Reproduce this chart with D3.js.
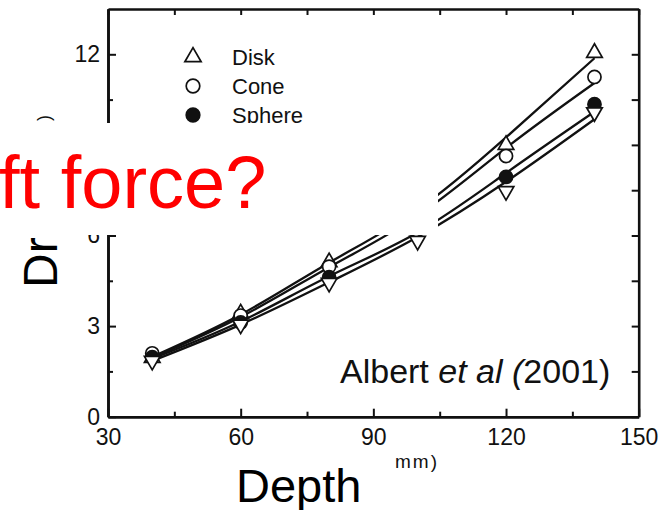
<!DOCTYPE html>
<html>
<head>
<meta charset="utf-8">
<script src="https://cdn.jsdelivr.net/npm/d3@7"></script>
<style>
body { margin: 0; background: #fff; }
text { font-family: "Liberation Sans", Arial, Helvetica, sans-serif; }
</style>
</head>
<body>
<div id="chart"></div>
<script>
// data (depth in mm, force)
var depths = [40, 60, 80, 100, 120, 140];
var diskVals = [1.95, 3.42, 5.12, 6.9, 9.0, 12.05];
var coneVals = [2.1, 3.35, 4.97, 6.7, 8.63, 11.25];
var sphereVals = [1.97, 3.12, 4.62, 6.3, 7.94, 10.35];
var downVals = [1.85, 3.05, 4.43, 5.82, 7.47, 10.08];

// fitted curves, read at the same depths
var diskFit = [1.98, 3.38, 5.1, 6.85, 9.25, 11.87];
var coneFit = [1.95, 3.3, 4.95, 6.65, 8.9, 11.05];
var sphereFit = [1.92, 3.15, 4.65, 6.1, 8.07, 10.1];
var downFit = [1.85, 3.05, 4.45, 5.95, 7.78, 9.85];

var legendNames = ["Disk", "Cone", "Sphere"];
var xMajorTicks = [30, 60, 90, 120, 150];
var xMinorTicks = [45, 75, 105, 135];
var yMajorTicks = [0, 3, 6, 9, 12];
var yTickLabels = ["0", "3", "6", "", "12"]; // the 9 sits under the white box
var yMinorTicks = [1.5, 4.5, 7.5, 10.5];

var svgWidth = 664, svgHeight = 510;
var margin = {top: 9, right: 25.3, bottom: 93.3, left: 108},
    width = svgWidth - margin.left - margin.right,
    height = svgHeight - margin.top - margin.bottom;

var root = d3.select("#chart")
  .append("svg")
    .attr("width", svgWidth)
    .attr("height", svgHeight)
    .style("display", "block");

var svg = root.append("g")
    .attr("transform", "translate(" + margin.left + "," + margin.top + ")");

var x = d3.scaleLinear().domain([30, 150]).range([0, width]);
var y = d3.scaleLinear().domain([0, 13.5]).range([height, 0]);

// axes, ticks pointing inward
function styleAxis(g) {
  g.attr("font-family", null).attr("font-size", null);
  g.select(".domain").attr("stroke", "#111").attr("stroke-width", 2.6);
  g.selectAll(".tick line").attr("stroke", "#111").attr("stroke-width", 2);
  g.selectAll(".tick text").attr("fill", "#111").style("font-size", "23px");
}

svg.append("g")
  .attr("transform", "translate(0," + height + ")")
  .call(d3.axisBottom(x).tickValues(xMajorTicks).tickSize(-8).tickSizeOuter(0).tickPadding(12).tickFormat(d3.format("d")))
  .call(styleAxis);
svg.append("g")
  .attr("transform", "translate(0," + height + ")")
  .call(d3.axisBottom(x).tickValues(xMinorTicks).tickSize(-5).tickSizeOuter(0).tickFormat(""))
  .call(styleAxis);

svg.append("g")
  .call(d3.axisLeft(y).tickValues(yMajorTicks).tickSize(-8).tickSizeOuter(0).tickPadding(8)
    .tickFormat(function(d, i) { return yTickLabels[i]; }))
  .call(styleAxis);
svg.append("g")
  .call(d3.axisLeft(y).tickValues(yMinorTicks).tickSize(-5).tickSizeOuter(0).tickFormat(""))
  .call(styleAxis);

svg.append("g")
  .call(d3.axisTop(x).tickValues(xMajorTicks.concat(xMinorTicks)).tickSize(-6).tickSizeOuter(0).tickFormat(""))
  .call(styleAxis);

svg.append("g")
  .attr("transform", "translate(" + width + ",0)")
  .call(d3.axisRight(y).tickValues(yMajorTicks.concat(yMinorTicks)).tickSize(-7).tickSizeOuter(0).tickFormat(""))
  .call(styleAxis);

// fitted lines
var fits = [diskFit, coneFit, sphereFit, downFit];
var line = d3.line()
  .x(function(d, i) { return x(depths[i]); })
  .y(function(d) { return y(d); })
  .curve(d3.curveNatural);

svg.append("g")
  .selectAll("path")
  .data(fits)
  .join("path")
    .attr("d", line)
    .attr("fill", "none")
    .attr("stroke", "#111")
    .attr("stroke-width", 2.3);

// markers
var series = [
  {vals: diskVals, shape: d3.symbolTriangle, size: 105, rot: 0, fill: "#fff"},
  {vals: coneVals, shape: d3.symbolCircle, size: 135, rot: 0, fill: "#fff"},
  {vals: sphereVals, shape: d3.symbolCircle, size: 135, rot: 0, fill: "#111"},
  {vals: downVals, shape: d3.symbolTriangle, size: 105, rot: 180, fill: "#fff"}
];

series.forEach(function(s) {
  svg.append("g")
    .selectAll("path")
    .data(s.vals)
    .join("path")
      .attr("d", d3.symbol().type(s.shape).size(s.size))
      .attr("transform", function(d, i) {
        return "translate(" + x(depths[i]) + "," + y(d) + ") rotate(" + s.rot + ")";
      })
      .attr("fill", s.fill)
      .attr("stroke", "#111")
      .attr("stroke-width", 1.7);
});

// legend
var legend = root.append("g").attr("transform", "translate(193,57)");
legend.selectAll("path")
  .data(legendNames)
  .join("path")
    .attr("d", function(d, i) { return d3.symbol().type(series[i].shape).size(series[i].size + 10)(); })
    .attr("transform", function(d, i) { return "translate(0," + (i * 29) + ")"; })
    .attr("fill", function(d, i) { return series[i].fill; })
    .attr("stroke", "#111")
    .attr("stroke-width", 1.7);
legend.selectAll("text")
  .data(legendNames)
  .join("text")
    .attr("x", 39)
    .attr("y", function(d, i) { return i * 29 + 8; })
    .style("font-size", "22px")
    .attr("fill", "#111")
    .text(function(d) { return d; });

// citation
var cite = root.append("text")
  .attr("x", 340)
  .attr("y", 383)
  .style("font-size", "34px")
  .attr("fill", "#111");
cite.append("tspan").text("Albert ");
cite.append("tspan").style("font-style", "italic").text("et al (");
cite.append("tspan").text("2001)");

// leftover bit of the original y label
root.append("text")
  .attr("transform", "translate(50,121) rotate(-90)")
  .style("font-size", "18px")
  .attr("fill", "#111")
  .text(")");

// white box laid over the figure
root.append("rect")
  .attr("x", -2)
  .attr("y", 123)
  .attr("width", 440)
  .attr("height", 112)
  .attr("fill", "#fff");

root.append("text")
  .attr("x", -1)
  .attr("y", 208)
  .style("font-size", "74px")
  .attr("fill", "#ff0000")
  .text("ft force?");

root.append("text")
  .attr("transform", "translate(57,288) rotate(-90)")
  .style("font-size", "48px")
  .attr("fill", "#000")
  .text("Dr");

root.append("text")
  .attr("x", 236)
  .attr("y", 502)
  .style("font-size", "47px")
  .attr("fill", "#000")
  .text("Depth");

root.append("text")
  .attr("x", 395)
  .attr("y", 468)
  .style("font-size", "19px")
  .style("letter-spacing", "2px")
  .attr("fill", "#111")
  .text("mm)");
</script>
</body>
</html>
